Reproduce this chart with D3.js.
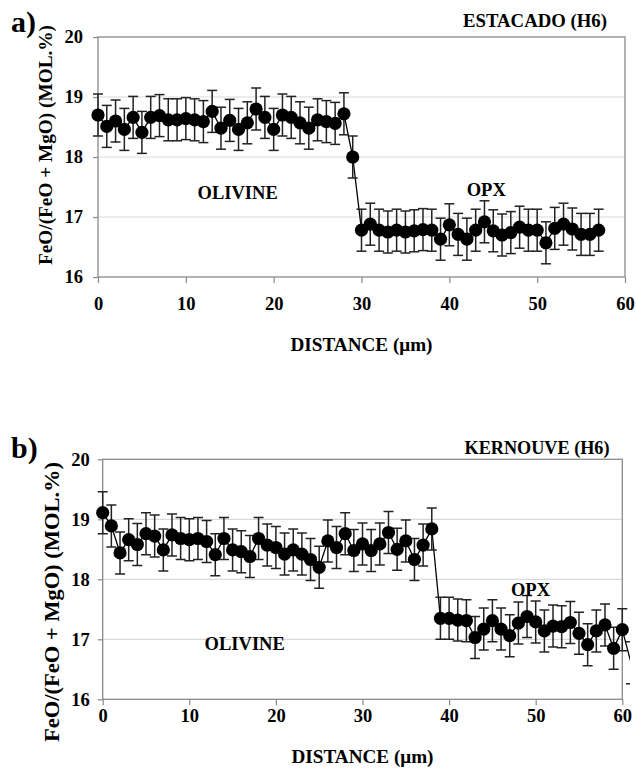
<!DOCTYPE html>
<html><head><meta charset="utf-8">
<script src="https://cdn.jsdelivr.net/npm/d3@7"></script>
<style>
body{margin:0;background:#fff}
text{font-family:"Liberation Serif","Times New Roman",serif;font-weight:bold;fill:#000}
</style></head>
<body><svg id="c" width="636" height="777"></svg>
<script>
// ---- data ----
const distA = [0,1,2,3,4,5,6,7,8,9,10,11,12,13,14,15,16,17,18,19,20,21,22,23,24,25,26,27,28,29,30,31,32,33,34,35,36,37,38,39,40,41,42,43,44,45,46,47,48,49,50,51,52,53,54,55,56,57];
const valA = [18.70,18.51,18.60,18.46,18.66,18.41,18.66,18.69,18.62,18.62,18.64,18.62,18.59,18.76,18.48,18.61,18.46,18.57,18.80,18.66,
  18.46,18.70,18.66,18.57,18.48,18.62,18.59,18.56,18.72,18.00,16.78,16.88,16.78,16.75,16.78,16.75,16.77,16.79,16.78,16.63,
  16.87,16.71,16.63,16.78,16.92,16.77,16.70,16.74,16.83,16.78,16.78,16.57,16.81,16.88,16.80,16.71,16.71,16.78];
const errA = 0.35;

const distB = [0,1,2,3,4,5,6,7,8,9,10,11,12,13,14,15,16,17,18,19,20,21,22,23,24,25,26,27,28,29,30,31,32,33,34,35,36,37,38,39,40,41,42,43,44,45,46,47,48,49,50,51,52,53,54,55,56,57,58,59,60,61];
const valB = [19.11,18.89,18.44,18.66,18.58,18.76,18.72,18.49,18.74,18.68,18.66,18.68,18.63,18.41,18.68,18.49,18.46,18.38,18.68,18.57,
  18.53,18.42,18.49,18.42,18.33,18.20,18.64,18.53,18.76,18.48,18.59,18.48,18.59,18.78,18.50,18.64,18.33,18.57,18.84,17.35,
  17.35,17.32,17.31,17.03,17.17,17.31,17.17,17.06,17.27,17.38,17.29,17.14,17.22,17.21,17.28,17.10,16.91,17.14,17.24,16.85,
  17.16,16.61];
const errB = 0.35;

const xTicks = [0,10,20,30,40,50,60];
const yTicks = [16,17,18,19,20];
const yGrid = [17,18,19];
const xDomain = [0,60];
const yDomain = [16,20];

const yTitle = "FeO/(FeO + MgO) (MOL.%)";
const xTitle = "DISTANCE (\u03bcm)";
const FONT = '"Liberation Serif","Times New Roman",serif';

// ---- drawing ----
const svg = d3.select("#c");

function panel(o){
  const x = d3.scaleLinear().domain(xDomain).range([o.l, o.r]);
  const y = d3.scaleLinear().domain(yDomain).range([o.b, o.t]);
  const g = svg.append("g");
  const cid = "clip" + o.id;
  svg.append("clipPath").attr("id", cid).append("rect")
     .attr("x", 0).attr("y", o.t - 30).attr("width", o.clipR).attr("height", o.b - o.t + 60);

  // grid
  g.selectAll(".grid").data(yGrid).join("line")
    .attr("x1", o.l).attr("x2", o.r).attr("y1", d => y(d)).attr("y2", d => y(d))
    .attr("stroke", "#d9d9d9").attr("stroke-width", 1.2);
  // frame
  g.append("rect").attr("x", o.l).attr("y", o.t).attr("width", o.r - o.l).attr("height", o.b - o.t)
    .attr("fill", "none").attr("stroke", "#8a8a8a").attr("stroke-width", 1.3);

  // axes
  const xa = g.append("g").attr("transform", `translate(0,${o.b})`)
    .call(d3.axisBottom(x).tickValues(xTicks).tickSize(6).tickPadding(o.xPad).tickFormat(d3.format("d")));
  const ya = g.append("g").attr("transform", `translate(${o.l},0)`)
    .call(d3.axisLeft(y).tickValues(yTicks).tickSize(5).tickPadding(o.yPad).tickFormat(d3.format("d")));
  [xa, ya].forEach(a => {
    a.attr("font-family", FONT).attr("font-size", o.tickFs);
    a.select(".domain").remove();
    a.selectAll(".tick line").attr("stroke", "#8a8a8a").attr("stroke-width", 1.2);
    a.selectAll(".tick text").style("font-family", FONT).style("font-weight", "bold")
      .style("font-size", o.tickFs + "px").attr("fill", "#000");
  });

  // data
  const pts = o.dist.map((d, i) => ({x: d, v: o.vals[i]}));
  const dg = g.append("g").attr("clip-path", `url(#${cid})`);
  dg.append("path").datum(pts)
    .attr("d", d3.line().x(d => x(d.x)).y(d => y(d.v)))
    .attr("fill", "none").attr("stroke", "#000").attr("stroke-width", 1.3);
  const eb = dg.selectAll(".eb").data(pts).join("g");
  eb.append("line").attr("x1", d => x(d.x)).attr("x2", d => x(d.x))
    .attr("y1", d => y(d.v + o.err)).attr("y2", d => y(d.v - o.err));
  eb.append("line").attr("x1", d => x(d.x) - 5).attr("x2", d => x(d.x) + 5)
    .attr("y1", d => y(d.v + o.err)).attr("y2", d => y(d.v + o.err));
  eb.append("line").attr("x1", d => x(d.x) - 5).attr("x2", d => x(d.x) + 5)
    .attr("y1", d => y(d.v - o.err)).attr("y2", d => y(d.v - o.err));
  eb.selectAll("line").attr("stroke", "#222").attr("stroke-width", 1.5);
  dg.selectAll(".pt").data(pts.filter(d => d.x <= xDomain[1])).join("circle")
    .attr("cx", d => x(d.x)).attr("cy", d => y(d.v)).attr("r", 6.6).attr("fill", "#000");

  // labels
  g.append("text").attr("x", o.titleX).attr("y", o.titleY).attr("text-anchor", "middle")
    .attr("textLength", o.titleLen).attr("lengthAdjust", "spacingAndGlyphs")
    .style("font-size", o.titleFs + "px").text(o.title);
  g.append("text").attr("x", o.panelX).attr("y", o.panelY).style("font-size", o.panelFs + "px").text(o.panel);
  g.append("text").attr("transform", `translate(${o.ytX},${o.ytY}) rotate(-90)`)
    .attr("text-anchor", "middle").attr("dominant-baseline", "central")
    .attr("textLength", o.ytLen).attr("lengthAdjust", "spacingAndGlyphs")
    .style("font-size", o.ytFs + "px").text(yTitle);
  g.append("text").attr("x", (o.l + o.r) / 2).attr("y", o.xtY).attr("text-anchor", "middle")
    .attr("textLength", 142).attr("lengthAdjust", "spacingAndGlyphs")
    .style("font-size", "19px").text(xTitle);
  o.notes.forEach(n => {
    g.append("text").attr("x", x(n.x)).attr("y", y(n.y)).attr("text-anchor", "middle")
      .attr("dominant-baseline", "central").style("font-size", "18.5px").text(n.t);
  });
}

panel({id: "a", l: 98, r: 625, t: 37, b: 277, clipR: 636, dist: distA, vals: valA, err: errA,
  xPad: 14, yPad: 10, tickFs: 18.5, title: "ESTACADO (H6)", titleX: 535, titleY: 27, titleFs: 18, titleLen: 144,
  panel: "a)", panelX: 11, panelY: 32, panelFs: 30,
  ytX: 45, ytY: 145, ytLen: 240, ytFs: 19, xtY: 351,
  notes: [{x: 15.9, y: 17.4, t: "OLIVINE"}, {x: 44.2, y: 17.45, t: "OPX"}]});

panel({id: "b", l: 102.7, r: 622.3, t: 459.3, b: 699.3, clipR: 630, dist: distB, vals: valB, err: errB,
  xPad: 4, yPad: 8, tickFs: 18.5, title: "KERNOUVE (H6)", titleX: 537, titleY: 453.5, titleFs: 18, titleLen: 145,
  panel: "b)", panelX: 11, panelY: 458, panelFs: 30,
  ytX: 52, ytY: 602, ytLen: 280, ytFs: 20, xtY: 763,
  notes: [{x: 16.4, y: 16.93, t: "OLIVINE"}, {x: 49.4, y: 17.82, t: "OPX"}]});
</script>
</body></html>
